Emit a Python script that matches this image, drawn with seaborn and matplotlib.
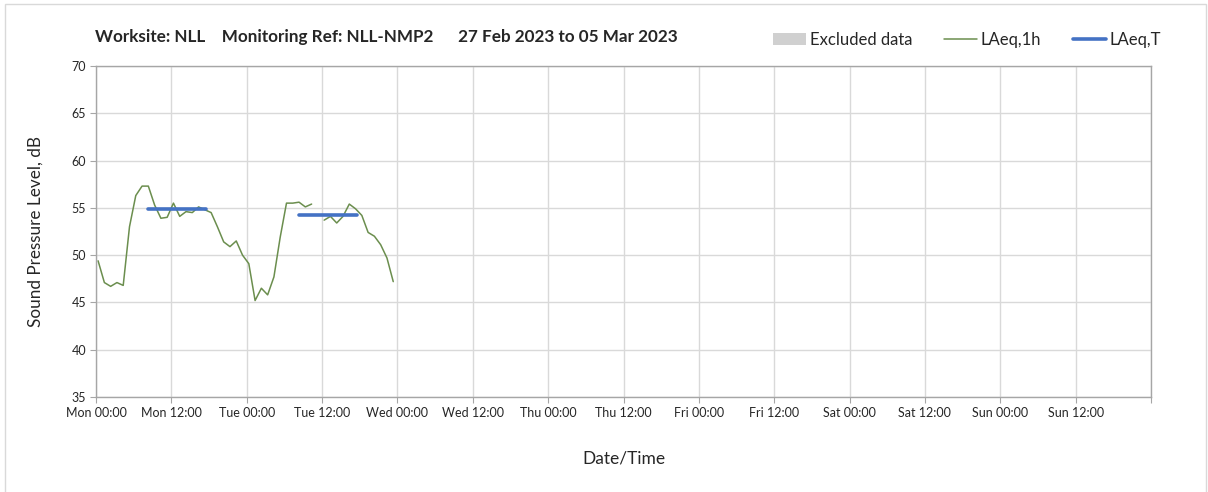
import numpy as np
import pandas as pd
import seaborn as sns
import matplotlib.pyplot as plt
from matplotlib.patches import Patch, Rectangle
from matplotlib.lines import Line2D

# hourly LAeq,1h readings (dB), Mon 27 Feb onwards; NaN = no data
laeq_1h = [49.4, 47.1, 46.7, 47.1, 46.8, 53.0, 56.3, 57.3, 57.3, 55.3,
           53.9, 54.0, 55.5, 54.1, 54.6, 54.5, 55.1, 54.8, 54.5, 53.0,
           51.4, 50.9, 51.5, 50.0, 49.1, 45.2, 46.5, 45.8, 47.7, 51.9,
           55.5, 55.5, 55.6, 55.1, 55.4, np.nan, 53.7, 54.1, 53.4, 54.1,
           55.4, 54.9, 54.2, 52.4, 52.0, 51.1, 49.7, 47.2]
first_reading = "2023-02-27 00:20"

# LAeq,T over the daytime period of each day
period_start = ["2023-02-27 08:15", "2023-02-28 08:15"]
period_end = ["2023-02-27 17:30", "2023-02-28 17:30"]
laeq_t = [54.9, 54.2]

tick_labels = ["Mon 00:00", "Mon 12:00", "Tue 00:00", "Tue 12:00", "Wed 00:00",
               "Wed 12:00", "Thu 00:00", "Thu 12:00", "Fri 00:00", "Fri 12:00",
               "Sat 00:00", "Sat 12:00", "Sun 00:00", "Sun 12:00"]

week_start = pd.Timestamp("2023-02-27 00:00")
times = pd.date_range(first_reading, periods=len(laeq_1h), freq="h")
df = pd.DataFrame({"hours": (times - week_start) / pd.Timedelta(hours=1),
                   "level": laeq_1h})
# split at the gap so the line breaks there
df["seg"] = df["level"].isna().cumsum()
df = df.dropna()

rows = []
for s, e, v in zip(period_start, period_end, laeq_t):
    for t in (s, e):
        rows.append({"hours": (pd.Timestamp(t) - week_start) / pd.Timedelta(hours=1),
                     "level": v, "period": s})
df_t = pd.DataFrame(rows)

sns.set_style("white")
plt.rcParams["font.family"] = ["Lato", "DejaVu Sans"]

green = "#6b8e4e"
blue = "#4472c4"
grey_line = "#a6a6a6"

fig = plt.figure(figsize=(12.08, 4.92), dpi=100)
ax = fig.add_axes([96 / 1208, 1 - 397 / 492, (1151 - 96) / 1208, (397 - 66) / 492])

for seg, d in df.groupby("seg"):
    sns.lineplot(data=d, x="hours", y="level", color=green, lw=1.1, ax=ax)
sns.lineplot(data=df_t, x="hours", y="level", units="period", estimator=None,
             color=blue, lw=2.6, ax=ax)

ax.set_xlim(0, 168)
ax.set_ylim(35, 70)
ax.set_xticks(np.arange(0, 169, 12))
ax.set_xticklabels(tick_labels + [""])
ax.set_yticks(np.arange(35, 71, 5))
ax.tick_params(axis="both", labelsize=9, length=4, color=grey_line,
               direction="out", left=True, bottom=True, pad=3)
ax.grid(True, color="#d9d9d9", lw=1)
for sp in ax.spines.values():
    sp.set_color(grey_line)
    sp.set_linewidth(1)
ax.set_xlabel("Date/Time", fontsize=12.5, labelpad=23)
ax.set_ylabel("Sound Pressure Level, dB", fontsize=12.3, labelpad=20)

fig.text(95 / 1208, 1 - 37 / 492,
         "Worksite: NLL    Monitoring Ref: NLL-NMP2      27 Feb 2023 to 05 Mar 2023",
         fontsize=12.3, fontweight="bold", va="center", ha="left")

handles = [Patch(facecolor="#d0d0d0", edgecolor="none"),
           Line2D([], [], color=green, lw=1.1),
           Line2D([], [], color=blue, lw=2.6)]
fig.legend(handles, ["Excluded data", "LAeq,1h", "LAeq,T"], loc="center",
           bbox_to_anchor=(967 / 1208, 1 - 40 / 492), ncol=3, frameon=False,
           fontsize=12, handlelength=2.0, handleheight=0.7,
           handletextpad=0.2, columnspacing=1.9)

fig.patches.append(Rectangle((5 / 1208, -0.01), 1201 / 1208, 1.01 - 4 / 492,
                             transform=fig.transFigure, fill=False,
                             edgecolor="#d9d9d9", lw=1))

fig.savefig("out.png", dpi=100)
